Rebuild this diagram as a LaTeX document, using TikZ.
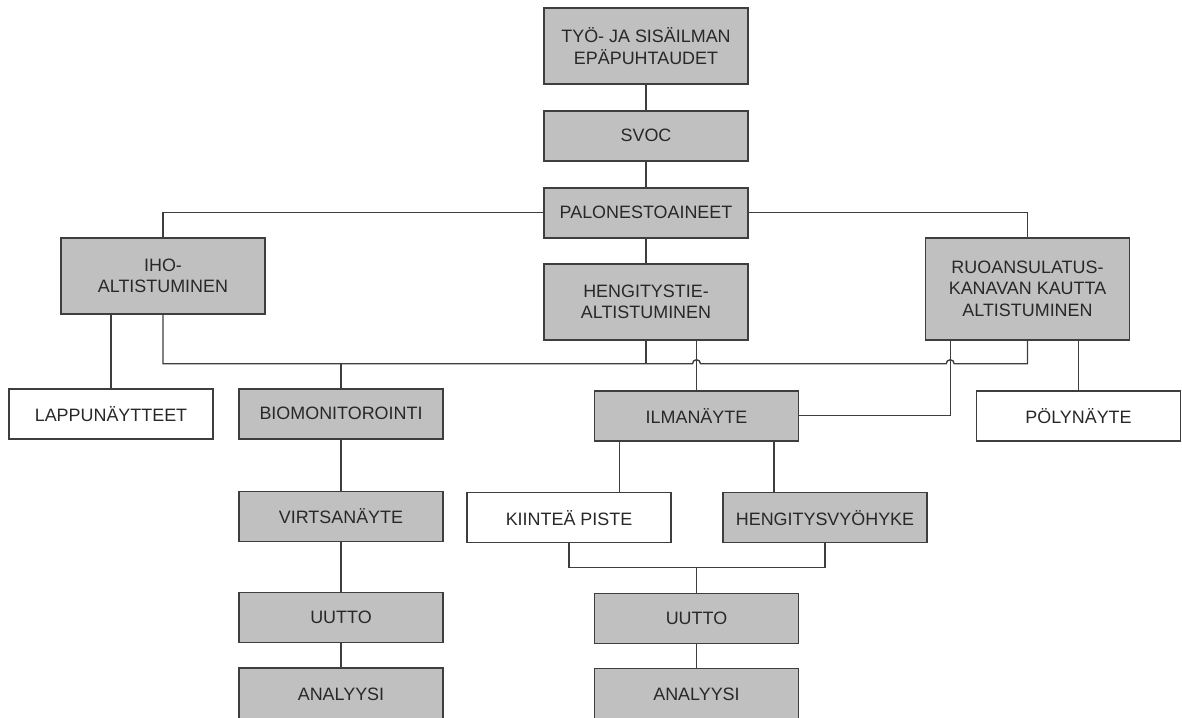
\documentclass[tikz,border=0pt]{standalone}
\usepackage{fontspec}
\setmainfont{Liberation Sans}
\usepackage{tikz}
\usetikzlibrary{positioning, calc}

\definecolor{boxgray}{RGB}{192,192,192}
\definecolor{linegray}{RGB}{62,62,62}
\definecolor{textgray}{RGB}{40,40,40}

\begin{document}
\begin{tikzpicture}[
    font=\fontsize{10.2}{12.3}\selectfont,
    text=textgray,
    gray_box/.style={draw=linegray, line width=0.9pt, fill=boxgray, minimum width=4.08cm, minimum height=1cm, align=center, inner sep=2pt},
    white_box/.style={gray_box, fill=white},
    link/.style={draw=linegray, line width=0.8pt}
]

% Page frame
\useasboundingbox (0,0) rectangle (23.64,-14.36);

% Main chain
\node[gray_box, minimum height=1.52cm, anchor=north] (source) at (12.92,-0.14) {TYÖ- JA SISÄILMAN\\EPÄPUHTAUDET};
\node[gray_box, below=0.508cm of source] (svoc) {SVOC};
\node[gray_box, below=0.508cm of svoc] (flame) {PALONESTOAINEET};

% Exposure routes
\node[gray_box, minimum height=1.52cm, below=0.488cm of flame] (inhal) {HENGITYSTIE-\\ALTISTUMINEN};
\node[gray_box, minimum height=1.52cm, below=-0.032cm of flame, xshift=-9.66cm] (skin) {IHO-\\ALTISTUMINEN};
\node[gray_box, minimum height=2.04cm, below=-0.032cm of flame, xshift=7.63cm] (oral) {RUOANSULATUS-\\KANAVAN KAUTTA\\ALTISTUMINEN};

% Samples
\node[white_box, below=1.468cm of skin, xshift=-1.04cm] (patch) {LAPPUNÄYTTEET};
\node[gray_box, below=1.468cm of skin, xshift=3.56cm] (biomon) {BIOMONITOROINTI};
\node[gray_box, below=0.988cm of inhal, xshift=1.01cm] (air) {ILMANÄYTE};
\node[white_box, below=0.988cm of oral, xshift=1.02cm] (dust) {PÖLYNÄYTE};

% Biomonitoring branch
\node[gray_box, below=1.02cm of biomon] (urine) {VIRTSANÄYTE};
\node[gray_box, below=0.99cm of urine] (extr_a) {UUTTO};
\node[gray_box, minimum height=1.04cm, below=0.48cm of extr_a] (anal_a) {ANALYYSI};

% Air sample branch
\node[white_box, below=1.008cm of air, xshift=-2.55cm] (fixed) {KIINTEÄ PISTE};
\node[gray_box, below=1.008cm of air, xshift=2.57cm] (breath) {HENGITYSVYÖHYKE};
\node[gray_box, below=3.028cm of air] (extr_b) {UUTTO};
\node[gray_box, minimum height=1.04cm, below=0.468cm of extr_b] (anal_b) {ANALYYSI};

% Helper points
\coordinate (bus) at ($(skin.south)+(0,-0.984cm)$);
\coordinate (hop) at ($(oral.south west)+(0.51cm,0)$);
\coordinate (join) at ($(fixed.south)+(0,-0.484cm)$);

% Top connections
\draw[link] (source) -- (svoc);
\draw[link] (svoc) -- (flame);
\draw[link] (flame) -- (inhal);
\draw[link] (flame.west) -| (skin.north);
\draw[link] (flame.east) -| (oral.north);

% Route bus to biomonitoring (with line jumps)
\draw[link] (skin.south) |- ($(air.north |- bus)+(-0.08cm,0)$)
    arc[start angle=180, end angle=0, radius=0.08cm]
    -- ($(hop |- bus)+(-0.08cm,0)$)
    arc[start angle=180, end angle=0, radius=0.08cm]
    -| (oral.south);
\draw[link] (inhal.south) -- (inhal.south |- bus);
\draw[link] (biomon.north) -- (biomon.north |- bus);
\draw[link] (patch.north) -- (patch.north |- skin.south);

% Air and dust samples
\draw[link] (air.north) -- (air.north |- inhal.south);
\draw[link] (air.east) -| (hop);
\draw[link] (dust.north) -- (dust.north |- oral.south);
\draw[link] ([xshift=0.51cm]air.south west) -- ([xshift=0.51cm]air.south west |- fixed.north);
\draw[link] ([xshift=-0.51cm]air.south east) -- ([xshift=-0.51cm]air.south east |- breath.north);
\draw[link] (fixed.south) -- (join) -| (breath.south);
\draw[link] (extr_b.north) -- (extr_b.north |- join);
\draw[link] (extr_b) -- (anal_b);

% Biomonitoring chain
\draw[link] (biomon) -- (urine);
\draw[link] (urine) -- (extr_a);
\draw[link] (extr_a) -- (anal_a);

\end{tikzpicture}
\end{document}
